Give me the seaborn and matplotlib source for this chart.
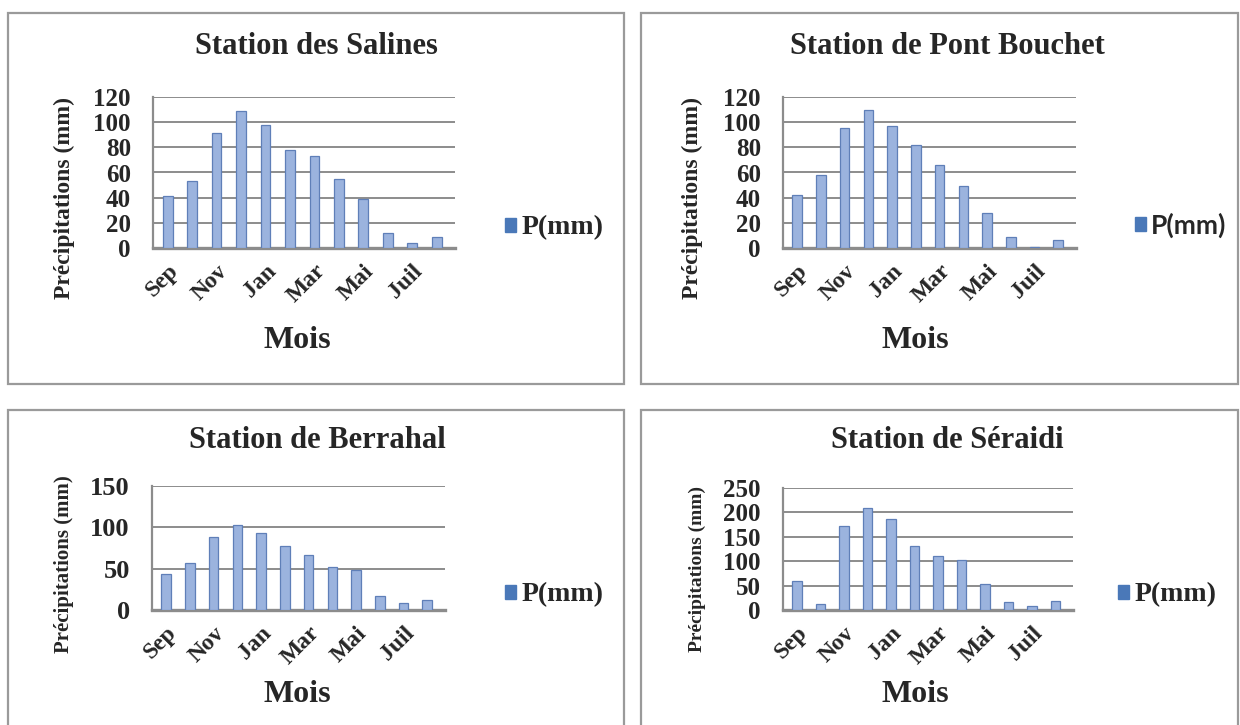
import matplotlib
matplotlib.use("Agg")
import matplotlib.pyplot as plt
from matplotlib.patches import Rectangle, Patch
from matplotlib.transforms import ScaledTranslation
import seaborn as sns
import pandas as pd

# Mean monthly precipitation (mm), hydrological year Sep -> Aug
mois = ["Sep", "Oct", "Nov", "Déc", "Jan", "Fév", "Mar", "Avr", "Mai", "Juin", "Juil", "Août"]
tick_pos = [0, 2, 4, 6, 8, 10]
tick_labels = ["Sep", "Nov", "Jan", "Mar", "Mai", "Juil"]

p_salines = [41, 53, 91, 109, 98, 78, 73, 55, 39, 12, 4, 9]
p_pont_bouchet = [42, 58, 95, 110, 97, 82, 66, 49, 28, 9, 1, 6]
p_berrahal = [44, 57, 88, 103, 93, 77, 66, 52, 48, 17, 8, 12]
p_seraidi = [60, 12, 173, 208, 186, 132, 110, 102, 53, 16, 8, 19]

W, H = 1240, 725
sns.set_theme(style="white")
plt.rcParams["font.family"] = ["Liberation Serif", "DejaVu Serif"]
plt.rcParams["font.weight"] = "bold"

fig = plt.figure(figsize=(W / 100, H / 100), dpi=100)
fig.patch.set_facecolor("white")

BAR = "#9bb3de"
BAR_EDGE = "#5f7fb8"
LEG = "#4a78b8"
GRID = "#8c8c8c"


def fx(x):
    return x / W


def fy(y):
    return 1 - y / H


def frame(x0, y0, x1, y1):
    fig.add_artist(Rectangle((fx(x0), fy(y1)), fx(x1) - fx(x0), fy(y0) - fy(y1),
                             transform=fig.transFigure, fill=False,
                             edgecolor="#9a9a9a", linewidth=1.6))


def panel(values, title, box, ylim, yticks, frm, title_xy, ylab_xy, mois_xy,
          leg_xy, ylab_fs, tick_fs, xtick_fs, leg_fs, leg_family):
    x0, ytop, x1, ybot = box
    ax = fig.add_axes([fx(x0), fy(ybot), fx(x1) - fx(x0), fy(ytop) - fy(ybot)])
    df = pd.DataFrame({"Mois": mois, "P(mm)": values})
    sns.barplot(data=df, x="Mois", y="P(mm)", ax=ax, color=BAR, width=0.4,
                edgecolor=BAR_EDGE, linewidth=0.9, saturation=1, zorder=3)
    ax.set_xlim(-0.6, 11.75)
    ax.set_ylim(*ylim)
    ax.set_yticks(yticks)
    ax.set_yticklabels([str(v) for v in yticks], fontsize=tick_fs, fontweight="bold")
    ax.set_xticks(tick_pos)
    ax.set_xticklabels(tick_labels, rotation=45, ha="right", va="top",
                       rotation_mode="anchor", fontsize=xtick_fs, fontweight="bold")
    shift = ScaledTranslation(-5 / 100, 0, fig.dpi_scale_trans)
    for lbl in ax.get_xticklabels():
        lbl.set_transform(lbl.get_transform() + shift)
    ax.tick_params(axis="x", length=0, pad=9)
    ax.tick_params(axis="y", length=6, width=1.2, color=GRID, pad=10, direction="out")
    ax.set_xlabel("")
    ax.set_ylabel("")
    for v in yticks:
        ax.axhline(v, color=GRID, linewidth=1.4, zorder=1)
    for s in ["top", "right"]:
        ax.spines[s].set_visible(False)
    ax.spines["left"].set_color(GRID)
    ax.spines["left"].set_linewidth(1.6)
    ax.spines["bottom"].set_color(GRID)
    ax.spines["bottom"].set_linewidth(2.4)
    ax.set_facecolor("none")

    frame(*frm)
    fig.text(fx(title_xy[0]), fy(title_xy[1]), title, ha="center", va="center",
             fontsize=22, fontweight="bold")
    fig.text(fx(ylab_xy[0]), fy(ylab_xy[1]), "Précipitations (mm)",
             rotation=90, ha="center", va="center", fontsize=ylab_fs, fontweight="bold")
    fig.text(fx(mois_xy[0]), fy(mois_xy[1]), "Mois", ha="center", va="center",
             fontsize=23, fontweight="bold")
    fig.legend(handles=[Patch(facecolor=LEG, edgecolor=LEG, label="P(mm)")],
               loc="center left", bbox_to_anchor=(fx(leg_xy[0]), fy(leg_xy[1])),
               frameon=False, handlelength=0.4, handleheight=0.4,
               handletextpad=0.2, borderaxespad=0, borderpad=0,
               prop={"family": leg_family, "weight": "bold", "size": leg_fs})
    return ax


panel(p_salines, "Station des Salines", (153, 97, 455, 248), (0, 120),
      [0, 20, 40, 60, 80, 100, 120], (8, 13, 624, 384), (316, 47), (64, 198), (297, 340),
      (505, 228), 17, 18, 17, 20, "Liberation Serif")
panel(p_pont_bouchet, "Station de Pont Bouchet", (783, 97, 1076, 248), (0, 120),
      [0, 20, 40, 60, 80, 100, 120], (641, 13, 1238, 384), (947, 47), (692, 198), (915, 340),
      (1135, 225), 17, 18, 17, 19, "Lato")
panel(p_berrahal, "Station de Berrahal", (152, 486, 445, 610), (0, 150),
      [0, 50, 100, 150], (8, 410, 624, 740), (317, 441), (64, 564), (297, 694),
      (505, 595), 15, 19, 17, 20, "Liberation Serif")
panel(p_seraidi, "Station de Séraidi", (783, 488, 1073, 610), (0, 250),
      [0, 50, 100, 150, 200, 250], (641, 410, 1238, 740), (947, 441), (697, 569), (915, 694),
      (1118, 595), 14, 18, 17, 20, "Liberation Serif")

fig.savefig("out.png", dpi=100, facecolor="white")
